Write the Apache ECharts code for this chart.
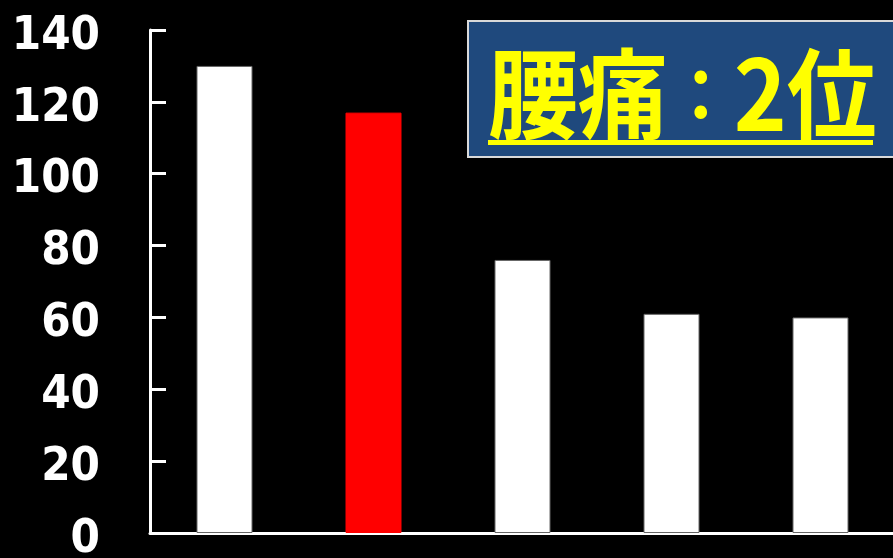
<!DOCTYPE html>
<html>
<head>
<meta charset="utf-8">
<script src="https://cdn.jsdelivr.net/npm/echarts@6/dist/echarts.min.js"></script>
<style>
  html, body { margin: 0; padding: 0; background: #000; }
  #chart { width: 893px; height: 558px; }
</style>
</head>
<body>
<div id="chart"></div>
<script>
// 項目（ラベルは画像の外）と値
const categories = ['肩こり', '腰痛', '手足の関節が痛む', '体がだるい', '頭痛']
const values = [130, 117, 76, 61, 60]
const highlight = 1 // 腰痛
const yTicks = { min: 0, max: 140, interval: 20 }
const titleParts = ['腰痛', '：', '2位']

const chart = echarts.init(document.getElementById('chart'))

const option = {
  backgroundColor: '#000',
  animation: false,
  grid: { left: 150, top: 30, width: 745, height: 503, containLabel: false, outerBoundsMode: 'none' },
  xAxis: {
    type: 'category',
    data: categories,
    axisLine: { show: true, lineStyle: { color: '#fff', width: 3 } },
    axisTick: { show: false },
    axisLabel: { show: false },
    splitLine: { show: false }
  },
  yAxis: {
    type: 'value',
    min: yTicks.min,
    max: yTicks.max,
    interval: yTicks.interval,
    axisLine: { show: true, lineStyle: { color: '#fff', width: 3 } },
    axisTick: { show: true, inside: true, length: 16, lineStyle: { color: '#fff', width: 3 } },
    splitLine: { show: false },
    axisLabel: {
      color: '#fff',
      fontFamily: '"DejaVu Sans Condensed", "Liberation Sans", sans-serif',
      fontWeight: 'bold',
      fontSize: 47,
      margin: 50,
      verticalAlign: 'top',
      lineHeight: 13
    }
  },
  series: [
    {
      type: 'bar',
      barWidth: 56,
      data: values.map((v, i) => ({
        value: v,
        itemStyle: {
          color: i === highlight ? '#ff0000' : '#ffffff',
          borderColor: i === highlight ? '#ff0000' : '#666',
          borderWidth: 1
        }
      }))
    }
  ],
  graphic: [
    {
      type: 'rect',
      shape: { x: 468, y: 21, width: 430, height: 136 },
      style: { fill: '#1f497d', stroke: '#d9d9d9', lineWidth: 2 },
      z: 10
    },
    {
      type: 'text',
      x: 488,
      y: 94,
      scaleX: 0.917,
      style: {
        text: '{a|' + titleParts[0] + '}{b|' + titleParts[1] + '}{a|' + titleParts[2] + '}',
        verticalAlign: 'middle',
        rich: {
          a: { fill: '#ffff00', fontFamily: '"Noto Sans CJK JP"', fontWeight: 'bold', fontSize: 98, verticalAlign: 'middle' },
          b: { fill: '#ffff00', fontFamily: '"Noto Sans CJK JP"', fontWeight: 'bold', fontSize: 72, verticalAlign: 'middle' }
        }
      },
      z: 11
    },
    {
      type: 'rect',
      shape: { x: 488, y: 140, width: 385, height: 5 },
      style: { fill: '#ffff00' },
      z: 11
    }
  ]
}

chart.setOption(option)
</script>
</body>
</html>
